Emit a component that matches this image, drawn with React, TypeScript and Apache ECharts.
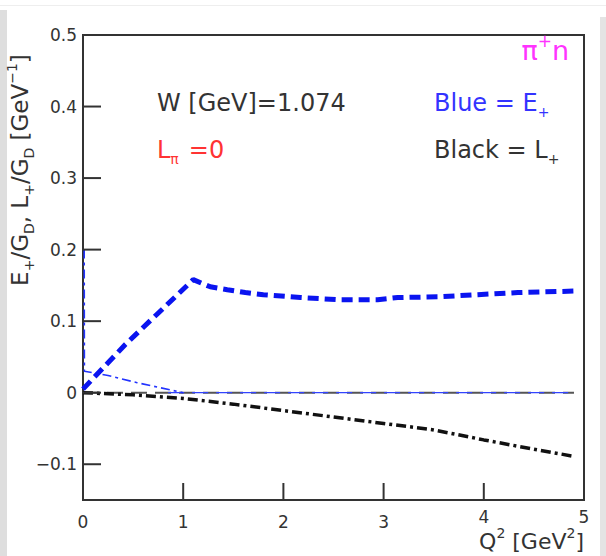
import React, { useEffect, useRef } from "react";
import * as echarts from "echarts";

// E+ / G_D (thick blue dashed)
const q2E = [0, 0.42, 1.1, 1.27, 1.44, 1.62, 1.8, 2.17, 2.54, 2.94, 3.14, 3.54, 3.94, 4.34, 4.9];
const ePlus = [0.005, 0.067, 0.158, 0.148, 0.144, 0.14, 0.137, 0.133, 0.13, 0.13, 0.133, 0.134, 0.137, 0.14, 0.142];

// thin blue dash-dot near Q2 = 0
const q2M = [0.012, 0.014, 0.25, 0.54, 0.77, 1.0];
const mPlus = [0.2, 0.03, 0.024, 0.014, 0.007, 0.0];

// L+ / G_D (black dash-dot)
const q2L = [0, 0.5, 1, 1.5, 2, 2.5, 3, 3.5, 4, 4.5, 4.9];
const lPlus = [0, -0.003, -0.008, -0.016, -0.025, -0.034, -0.043, -0.052, -0.066, -0.079, -0.089];

// zero reference lines
const q2Zero = [0, 4.9];
const q2ZeroBlue = [0.85, 4.9];
const zeroVals = [0, 0];

const X_MIN = 0;
const X_MAX = 5;
const Y_MIN = -0.15;
const Y_MAX = 0.5;
const yTicks = [-0.1, 0, 0.1, 0.2, 0.3, 0.4, 0.5];
const xTicks = [0, 1, 2, 3, 4, 5];
const xInnerTicks = [1, 2, 3, 4];

const FONT = "DejaVu Sans";
const INK = "#333";

const pairs = (xs: number[], ys: number[]) => xs.map((x, i) => [x, ys[i]]);

const richBase = (size: number, sub: number, color: string) => ({
  m: { fontSize: size, fontFamily: FONT, fill: color, lineHeight: size + 8, verticalAlign: "middle" as const },
  s: { fontSize: sub, fontFamily: FONT, fill: color, lineHeight: sub, verticalAlign: "bottom" as const },
  p: { fontSize: sub, fontFamily: FONT, fill: color, lineHeight: sub, verticalAlign: "top" as const },
  g: { fontSize: size, fontFamily: FONT, fill: color, lineHeight: size + 8, verticalAlign: "middle" as const, padding: [0, 0, 0, 10] },
});

// static decorations and annotation texts
const baseGraphics: any[] = [
  { type: "rect", shape: { x: 0, y: 5, width: 606, height: 1 }, style: { fill: "#eeeeee" }, silent: true },
  { type: "rect", shape: { x: 0, y: 10, width: 7, height: 546 }, style: { fill: "#dedede" }, silent: true },
  { type: "rect", shape: { x: 600, y: 17, width: 6, height: 539 }, style: { fill: "#e4e4e4" }, silent: true },
  {
    type: "text",
    x: 20,
    y: 170,
    rotation: Math.PI / 2,
    style: {
      text: "{m|E}{s|+}{m|/G}{s|D}{m|, L}{s|+}{m|/G}{s|D}{m| [GeV}{p|\u22121}{m|]}",
      rich: richBase(23, 14, INK),
      align: "center",
      verticalAlign: "middle",
    },
  },
  {
    type: "text",
    x: 584,
    y: 541,
    style: {
      text: "{m|Q}{p|2}{m| [GeV}{p|2}{m|]}",
      rich: richBase(22, 14, INK),
      align: "right",
      verticalAlign: "middle",
    },
  },
  {
    type: "text",
    x: 569,
    y: 50,
    style: {
      text: "{m|\u03c0}{p|+}{m|n}",
      rich: richBase(27, 17, "#ff33ff"),
      align: "right",
      verticalAlign: "middle",
    },
  },
  {
    type: "text",
    x: 157,
    y: 103,
    style: {
      text: "W [GeV]=1.074",
      fontFamily: FONT,
      fontSize: 24,
      fill: INK,
      align: "left",
      verticalAlign: "middle",
    },
  },
  {
    type: "text",
    x: 157,
    y: 150,
    style: {
      text: "{m|L}{s|\u03c0}{g|=0}",
      rich: richBase(24, 14, "#ff3333"),
      align: "left",
      verticalAlign: "middle",
    },
  },
  {
    type: "text",
    x: 434,
    y: 103,
    style: {
      text: "{m|Blue = E}{s|+}",
      rich: richBase(24, 14, "#3333ff"),
      align: "left",
      verticalAlign: "middle",
    },
  },
  {
    type: "text",
    x: 434,
    y: 150,
    style: {
      text: "{m|Black = L}{s|+}",
      rich: richBase(24, 14, INK),
      align: "left",
      verticalAlign: "middle",
    },
  },
];

export default function App() {
  const ref = useRef<HTMLDivElement>(null);

  useEffect(() => {
    if (!ref.current) return;
    const chart = echarts.init(ref.current, null, { renderer: "svg" });

    const option = {
      animation: false,
      backgroundColor: "#fff",
      grid: {
        left: 83,
        top: 35,
        width: 501,
        height: 465,
        show: true,
        borderColor: INK,
        borderWidth: 2,
        backgroundColor: "transparent",
      },
      xAxis: {
        type: "value",
        min: X_MIN,
        max: X_MAX,
        interval: 1,
        axisLine: { show: true, onZero: false, lineStyle: { color: INK, width: 2 } },
        axisTick: { show: false },
        splitLine: { show: false },
        axisLabel: {
          margin: 9,
          showMinLabel: true,
          showMaxLabel: true,
          customValues: xTicks.slice(),
          formatter: (v: number) => (v >= 4 ? `{hi|${v}}` : `{n|${v}}`),
          rich: {
            n: { fontFamily: FONT, fontSize: 17, color: INK, lineHeight: 26, verticalAlign: "middle" },
            hi: { fontFamily: FONT, fontSize: 17, color: INK, lineHeight: 16, verticalAlign: "middle" },
          },
        },
      },
      yAxis: {
        type: "value",
        min: Y_MIN,
        max: Y_MAX,
        axisLine: { show: true, onZero: false, lineStyle: { color: INK, width: 2 } },
        axisTick: { show: false },
        splitLine: { show: false },
        axisLabel: {
          margin: 6,
          fontFamily: FONT,
          fontSize: 17,
          color: INK,
          customValues: yTicks.slice(),
          formatter: (v: number) => {
            if (Math.abs(v) < 1e-9) return "0";
            const s = Math.abs(v).toFixed(1);
            return v < 0 ? "\u2212" + s : s;
          },
        },
      },
      series: [
        {
          type: "line",
          data: pairs(q2Zero, zeroVals),
          symbol: "none",
          lineStyle: { color: "#555", width: 2, type: [16, 8] },
          z: 2,
        },
        {
          type: "line",
          data: pairs(q2ZeroBlue, zeroVals),
          symbol: "none",
          lineStyle: { color: "#3344ff", width: 1.2, type: [16, 8] },
          z: 3,
        },
        {
          type: "line",
          data: pairs(q2M, mPlus),
          symbol: "none",
          lineStyle: { color: "#2233ff", width: 1.6, type: [9, 4, 3, 4] },
          z: 3,
        },
        {
          type: "line",
          data: pairs(q2L, lPlus),
          symbol: "none",
          lineStyle: { color: "#111", width: 3.5, type: [10, 4, 3, 4] },
          z: 4,
        },
        {
          type: "line",
          data: pairs(q2E, ePlus),
          symbol: "none",
          lineStyle: { color: "#0a14f0", width: 5, type: [11, 6] },
          z: 5,
        },
      ],
      graphic: baseGraphics,
    };

    chart.setOption(option as any);

    // inward tick marks, positioned through the chart's own axis scales
    const tickGraphics: any[] = [];
    yTicks.forEach((v) => {
      const p = chart.convertToPixel({ gridIndex: 0 }, [X_MIN, v]) as number[];
      tickGraphics.push({
        type: "rect",
        shape: { x: p[0], y: p[1] - 1, width: 18, height: 2 },
        style: { fill: INK },
        silent: true,
        z: 100,
      });
    });
    xInnerTicks.forEach((v) => {
      const p = chart.convertToPixel({ gridIndex: 0 }, [v, Y_MIN]) as number[];
      tickGraphics.push({
        type: "rect",
        shape: { x: p[0] - 1, y: p[1] - 17, width: 2, height: 17 },
        style: { fill: INK },
        silent: true,
        z: 100,
      });
    });
    chart.setOption({ graphic: [...baseGraphics, ...tickGraphics] } as any);

    return () => chart.dispose();
  }, []);

  return (
    <div
      ref={ref}
      style={{ position: "fixed", left: 0, top: 0, width: 606, height: 556, background: "#fff" }}
    />
  );
}
